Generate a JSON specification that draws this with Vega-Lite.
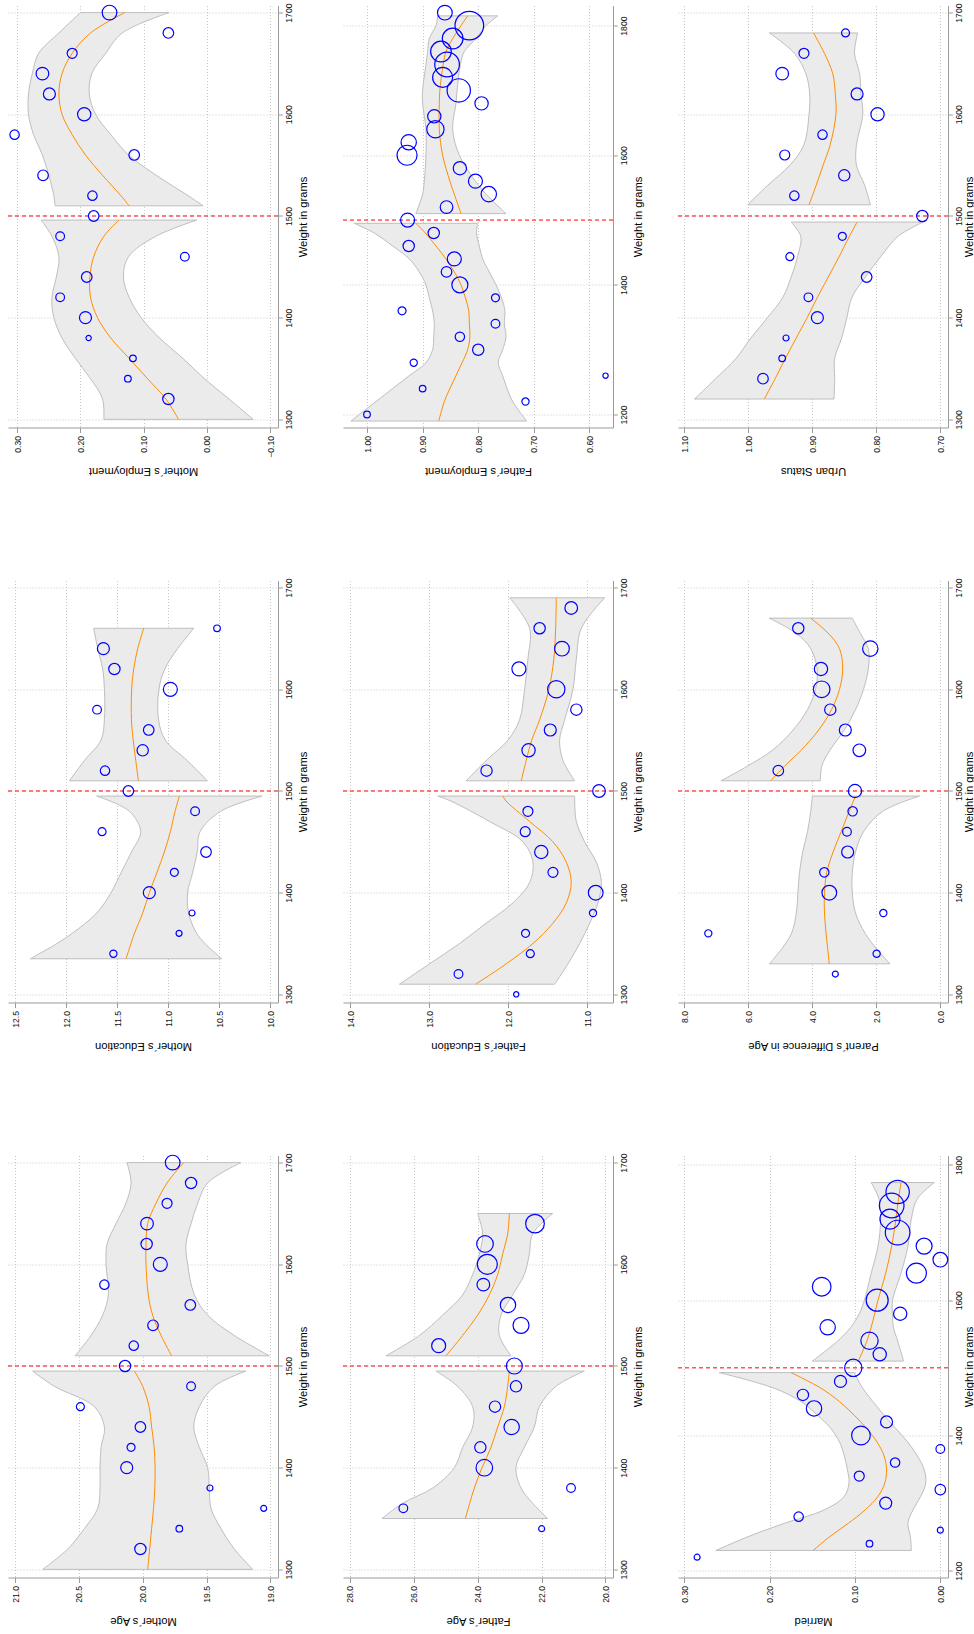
{
"$schema": "https://vega.github.io/schema/vega-lite/v6.json",
"background": "white",
"padding": {"left": 7, "top": 2.5, "right": 0, "bottom": 0},
"datasets": {
"cut": [{"w": 1500}],
"band": [
{"p":"A","s":1,"w":1300,"f":0.045,"hi":0.163,"lo":-0.073},{"p":"A","s":1,"w":1320,"f":0.065,"hi":0.165,"lo":-0.035},{"p":"A","s":1,"w":1340,"f":0.094,"hi":0.184,"lo":0.004},{"p":"A","s":1,"w":1360,"f":0.123,"hi":0.208,"lo":0.038},{"p":"A","s":1,"w":1380,"f":0.152,"hi":0.229,"lo":0.075},{"p":"A","s":1,"w":1400,"f":0.173,"hi":0.242,"lo":0.104},{"p":"A","s":1,"w":1420,"f":0.184,"hi":0.245,"lo":0.123},{"p":"A","s":1,"w":1440,"f":0.185,"hi":0.238,"lo":0.132},{"p":"A","s":1,"w":1460,"f":0.179,"hi":0.234,"lo":0.124},{"p":"A","s":1,"w":1480,"f":0.163,"hi":0.245,"lo":0.081},{"p":"A","s":1,"w":1496,"f":0.139,"hi":0.262,"lo":0.016},
{"p":"A","s":2,"w":1510,"f":0.123,"hi":0.240,"lo":0.006},{"p":"A","s":2,"w":1520,"f":0.136,"hi":0.242,"lo":0.030},{"p":"A","s":2,"w":1540,"f":0.165,"hi":0.250,"lo":0.080},{"p":"A","s":2,"w":1560,"f":0.192,"hi":0.260,"lo":0.124},{"p":"A","s":2,"w":1580,"f":0.213,"hi":0.274,"lo":0.152},{"p":"A","s":2,"w":1600,"f":0.229,"hi":0.282,"lo":0.176},{"p":"A","s":2,"w":1620,"f":0.234,"hi":0.282,"lo":0.186},{"p":"A","s":2,"w":1640,"f":0.229,"hi":0.276,"lo":0.182},{"p":"A","s":2,"w":1660,"f":0.213,"hi":0.266,"lo":0.160},{"p":"A","s":2,"w":1680,"f":0.184,"hi":0.234,"lo":0.134},{"p":"A","s":2,"w":1700,"f":0.130,"hi":0.200,"lo":0.060},
{"p":"B","s":1,"w":1190,"f":0.871,"hi":1.029,"lo":0.713},{"p":"B","s":1,"w":1220,"f":0.861,"hi":0.984,"lo":0.738},{"p":"B","s":1,"w":1240,"f":0.851,"hi":0.954,"lo":0.748},{"p":"B","s":1,"w":1260,"f":0.840,"hi":0.924,"lo":0.756},{"p":"B","s":1,"w":1280,"f":0.829,"hi":0.894,"lo":0.764},{"p":"B","s":1,"w":1300,"f":0.819,"hi":0.882,"lo":0.756},{"p":"B","s":1,"w":1320,"f":0.815,"hi":0.880,"lo":0.750},{"p":"B","s":1,"w":1340,"f":0.816,"hi":0.879,"lo":0.753},{"p":"B","s":1,"w":1360,"f":0.817,"hi":0.882,"lo":0.752},{"p":"B","s":1,"w":1380,"f":0.823,"hi":0.888,"lo":0.758},{"p":"B","s":1,"w":1400,"f":0.831,"hi":0.894,"lo":0.768},{"p":"B","s":1,"w":1420,"f":0.843,"hi":0.906,"lo":0.780},{"p":"B","s":1,"w":1440,"f":0.858,"hi":0.924,"lo":0.792},{"p":"B","s":1,"w":1460,"f":0.876,"hi":0.954,"lo":0.798},{"p":"B","s":1,"w":1480,"f":0.895,"hi":0.987,"lo":0.803},{"p":"B","s":1,"w":1495,"f":0.912,"hi":1.023,"lo":0.801},
{"p":"B","s":2,"w":1510,"f":0.831,"hi":0.912,"lo":0.750},{"p":"B","s":2,"w":1540,"f":0.843,"hi":0.900,"lo":0.786},{"p":"B","s":2,"w":1560,"f":0.851,"hi":0.897,"lo":0.805},{"p":"B","s":2,"w":1600,"f":0.864,"hi":0.894,"lo":0.834},{"p":"B","s":2,"w":1640,"f":0.870,"hi":0.894,"lo":0.846},{"p":"B","s":2,"w":1680,"f":0.870,"hi":0.900,"lo":0.840},{"p":"B","s":2,"w":1700,"f":0.869,"hi":0.900,"lo":0.838},{"p":"B","s":2,"w":1740,"f":0.863,"hi":0.894,"lo":0.832},{"p":"B","s":2,"w":1760,"f":0.858,"hi":0.891,"lo":0.825},{"p":"B","s":2,"w":1780,"f":0.846,"hi":0.888,"lo":0.804},{"p":"B","s":2,"w":1800,"f":0.831,"hi":0.876,"lo":0.786},{"p":"B","s":2,"w":1815,"f":0.819,"hi":0.873,"lo":0.765},
{"p":"C","s":1,"w":1320,"f":0.975,"hi":1.084,"lo":0.866},{"p":"C","s":1,"w":1340,"f":0.958,"hi":1.051,"lo":0.865},{"p":"C","s":1,"w":1360,"f":0.942,"hi":1.019,"lo":0.865},{"p":"C","s":1,"w":1380,"f":0.925,"hi":0.996,"lo":0.854},{"p":"C","s":1,"w":1400,"f":0.908,"hi":0.970,"lo":0.846},{"p":"C","s":1,"w":1420,"f":0.892,"hi":0.946,"lo":0.838},{"p":"C","s":1,"w":1440,"f":0.875,"hi":0.933,"lo":0.817},{"p":"C","s":1,"w":1460,"f":0.858,"hi":0.923,"lo":0.793},{"p":"C","s":1,"w":1480,"f":0.842,"hi":0.918,"lo":0.766},{"p":"C","s":1,"w":1494,"f":0.830,"hi":0.933,"lo":0.727},
{"p":"C","s":2,"w":1511,"f":0.905,"hi":1.001,"lo":0.809},{"p":"C","s":2,"w":1530,"f":0.894,"hi":0.970,"lo":0.818},{"p":"C","s":2,"w":1550,"f":0.883,"hi":0.935,"lo":0.831},{"p":"C","s":2,"w":1570,"f":0.872,"hi":0.913,"lo":0.831},{"p":"C","s":2,"w":1600,"f":0.863,"hi":0.905,"lo":0.821},{"p":"C","s":2,"w":1620,"f":0.864,"hi":0.904,"lo":0.824},{"p":"C","s":2,"w":1640,"f":0.868,"hi":0.910,"lo":0.826},{"p":"C","s":2,"w":1660,"f":0.881,"hi":0.928,"lo":0.834},{"p":"C","s":2,"w":1680,"f":0.898,"hi":0.967,"lo":0.829},
{"p":"D","s":1,"w":1335,"f":11.413,"hi":12.35,"lo":10.476},{"p":"D","s":1,"w":1350,"f":11.365,"hi":12.09,"lo":10.64},{"p":"D","s":1,"w":1360,"f":11.331,"hi":11.94,"lo":10.722},{"p":"D","s":1,"w":1380,"f":11.25,"hi":11.70,"lo":10.80},{"p":"D","s":1,"w":1400,"f":11.185,"hi":11.56,"lo":10.81},{"p":"D","s":1,"w":1420,"f":11.11,"hi":11.46,"lo":10.76},{"p":"D","s":1,"w":1440,"f":11.038,"hi":11.36,"lo":10.716},{"p":"D","s":1,"w":1460,"f":10.979,"hi":11.27,"lo":10.688},{"p":"D","s":1,"w":1480,"f":10.933,"hi":11.38,"lo":10.486},{"p":"D","s":1,"w":1495,"f":10.891,"hi":11.70,"lo":10.08},
{"p":"D","s":2,"w":1510,"f":11.292,"hi":11.968,"lo":10.616},{"p":"D","s":2,"w":1530,"f":11.318,"hi":11.821,"lo":10.815},{"p":"D","s":2,"w":1550,"f":11.343,"hi":11.658,"lo":11.028},{"p":"D","s":2,"w":1570,"f":11.36,"hi":11.625,"lo":11.095},{"p":"D","s":2,"w":1600,"f":11.358,"hi":11.625,"lo":11.091},{"p":"D","s":2,"w":1620,"f":11.338,"hi":11.642,"lo":11.034},{"p":"D","s":2,"w":1640,"f":11.299,"hi":11.69,"lo":10.908},{"p":"D","s":2,"w":1660,"f":11.24,"hi":11.73,"lo":10.75},
{"p":"E","s":1,"w":1310,"f":12.411,"hi":13.375,"lo":11.41},{"p":"E","s":1,"w":1330,"f":12.023,"hi":12.994,"lo":11.241},{"p":"E","s":1,"w":1350,"f":11.685,"hi":12.614,"lo":11.093},{"p":"E","s":1,"w":1370,"f":11.431,"hi":12.276,"lo":10.966},{"p":"E","s":1,"w":1390,"f":11.262,"hi":11.938,"lo":10.861},{"p":"E","s":1,"w":1410,"f":11.2,"hi":11.727,"lo":10.818},{"p":"E","s":1,"w":1430,"f":11.262,"hi":11.685,"lo":10.882},{"p":"E","s":1,"w":1450,"f":11.431,"hi":11.811,"lo":11.03},{"p":"E","s":1,"w":1470,"f":11.727,"hi":12.234,"lo":11.135},{"p":"E","s":1,"w":1490,"f":12.023,"hi":12.72,"lo":11.156},{"p":"E","s":1,"w":1495,"f":12.065,"hi":12.889,"lo":11.156},
{"p":"E","s":2,"w":1510,"f":11.832,"hi":12.53,"lo":11.156},{"p":"E","s":2,"w":1530,"f":11.77,"hi":12.276,"lo":11.304},{"p":"E","s":2,"w":1550,"f":11.70,"hi":12.001,"lo":11.347},{"p":"E","s":2,"w":1570,"f":11.60,"hi":11.854,"lo":11.283},{"p":"E","s":2,"w":1600,"f":11.482,"hi":11.79,"lo":11.178},{"p":"E","s":2,"w":1630,"f":11.42,"hi":11.748,"lo":11.135},{"p":"E","s":2,"w":1660,"f":11.397,"hi":11.727,"lo":11.072},{"p":"E","s":2,"w":1690,"f":11.389,"hi":11.98,"lo":10.776},
{"p":"F","s":1,"w":1330,"f":3.47,"hi":5.34,"lo":1.57},{"p":"F","s":1,"w":1345,"f":3.52,"hi":4.95,"lo":2.0},{"p":"F","s":1,"w":1360,"f":3.57,"hi":4.65,"lo":2.35},{"p":"F","s":1,"w":1380,"f":3.62,"hi":4.5,"lo":2.65},{"p":"F","s":1,"w":1400,"f":3.62,"hi":4.45,"lo":2.75},{"p":"F","s":1,"w":1420,"f":3.55,"hi":4.4,"lo":2.75},{"p":"F","s":1,"w":1440,"f":3.35,"hi":4.3,"lo":2.65},{"p":"F","s":1,"w":1460,"f":3.1,"hi":4.15,"lo":2.4},{"p":"F","s":1,"w":1480,"f":2.85,"hi":4.05,"lo":1.8},{"p":"F","s":1,"w":1495,"f":2.65,"hi":4.0,"lo":0.65},
{"p":"F","s":2,"w":1510,"f":5.3,"hi":6.85,"lo":3.75},{"p":"F","s":2,"w":1525,"f":4.85,"hi":6.0,"lo":3.7},{"p":"F","s":2,"w":1540,"f":4.35,"hi":5.25,"lo":3.45},{"p":"F","s":2,"w":1560,"f":3.8,"hi":4.6,"lo":3.0},{"p":"F","s":2,"w":1580,"f":3.4,"hi":4.15,"lo":2.65},{"p":"F","s":2,"w":1600,"f":3.15,"hi":3.9,"lo":2.4},{"p":"F","s":2,"w":1620,"f":3.05,"hi":3.85,"lo":2.25},{"p":"F","s":2,"w":1640,"f":3.15,"hi":4.05,"lo":2.25},{"p":"F","s":2,"w":1655,"f":3.5,"hi":4.5,"lo":2.5},{"p":"F","s":2,"w":1670,"f":4.05,"hi":5.35,"lo":2.75},
{"p":"G","s":1,"w":1300,"f":19.961,"hi":20.783,"lo":19.138},{"p":"G","s":1,"w":1320,"f":19.945,"hi":20.587,"lo":19.282},{"p":"G","s":1,"w":1340,"f":19.93,"hi":20.457,"lo":19.386},{"p":"G","s":1,"w":1360,"f":19.915,"hi":20.352,"lo":19.465},{"p":"G","s":1,"w":1380,"f":19.905,"hi":20.334,"lo":19.478},{"p":"G","s":1,"w":1400,"f":19.903,"hi":20.334,"lo":19.491},{"p":"G","s":1,"w":1420,"f":19.91,"hi":20.326,"lo":19.556},{"p":"G","s":1,"w":1440,"f":19.93,"hi":20.3,"lo":19.6},{"p":"G","s":1,"w":1460,"f":19.95,"hi":20.379,"lo":19.556},{"p":"G","s":1,"w":1480,"f":20.0,"hi":20.692,"lo":19.439},{"p":"G","s":1,"w":1495,"f":20.065,"hi":20.862,"lo":19.191},
{"p":"G","s":2,"w":1510,"f":19.773,"hi":20.53,"lo":19.008},{"p":"G","s":2,"w":1530,"f":19.856,"hi":20.405,"lo":19.282},{"p":"G","s":2,"w":1550,"f":19.922,"hi":20.313,"lo":19.491},{"p":"G","s":2,"w":1570,"f":19.956,"hi":20.269,"lo":19.595},{"p":"G","s":2,"w":1600,"f":19.974,"hi":20.287,"lo":19.648},{"p":"G","s":2,"w":1620,"f":19.974,"hi":20.279,"lo":19.661},{"p":"G","s":2,"w":1640,"f":19.961,"hi":20.209,"lo":19.621},{"p":"G","s":2,"w":1660,"f":19.896,"hi":20.131,"lo":19.569},{"p":"G","s":2,"w":1680,"f":19.809,"hi":20.091,"lo":19.491},{"p":"G","s":2,"w":1700,"f":19.679,"hi":20.123,"lo":19.23},
{"p":"H","s":1,"w":1350,"f":24.386,"hi":26.997,"lo":21.807},{"p":"H","s":1,"w":1365,"f":24.25,"hi":26.35,"lo":22.277},{"p":"H","s":1,"w":1380,"f":24.104,"hi":25.41,"lo":22.642},{"p":"H","s":1,"w":1400,"f":23.864,"hi":24.731,"lo":22.799},{"p":"H","s":1,"w":1420,"f":23.582,"hi":24.47,"lo":22.538},{"p":"H","s":1,"w":1440,"f":23.373,"hi":24.157,"lo":22.225},{"p":"H","s":1,"w":1460,"f":23.164,"hi":24.157,"lo":22.068},{"p":"H","s":1,"w":1480,"f":23.06,"hi":24.627,"lo":21.546},{"p":"H","s":1,"w":1495,"f":23.008,"hi":25.306,"lo":20.658},
{"p":"H","s":2,"w":1510,"f":24.992,"hi":26.872,"lo":22.956},{"p":"H","s":2,"w":1530,"f":24.47,"hi":25.828,"lo":23.321},{"p":"H","s":2,"w":1550,"f":24.0,"hi":25.097,"lo":23.269},{"p":"H","s":2,"w":1570,"f":23.634,"hi":24.47,"lo":22.903},{"p":"H","s":2,"w":1590,"f":23.373,"hi":24.157,"lo":22.538},{"p":"H","s":2,"w":1610,"f":23.217,"hi":23.948,"lo":22.381},{"p":"H","s":2,"w":1630,"f":23.06,"hi":23.843,"lo":22.277},{"p":"H","s":2,"w":1650,"f":23.008,"hi":24.0,"lo":21.65},
{"p":"I","s":1,"w":1230,"f":0.149,"hi":0.263,"lo":0.034},{"p":"I","s":1,"w":1250,"f":0.130,"hi":0.226,"lo":0.035},{"p":"I","s":1,"w":1270,"f":0.108,"hi":0.183,"lo":0.038},{"p":"I","s":1,"w":1290,"f":0.088,"hi":0.136,"lo":0.032},{"p":"I","s":1,"w":1310,"f":0.073,"hi":0.1125,"lo":0.023},{"p":"I","s":1,"w":1330,"f":0.065,"hi":0.107,"lo":0.017},{"p":"I","s":1,"w":1350,"f":0.063,"hi":0.109,"lo":0.019},{"p":"I","s":1,"w":1370,"f":0.066,"hi":0.1125,"lo":0.027},{"p":"I","s":1,"w":1390,"f":0.074,"hi":0.118,"lo":0.038},{"p":"I","s":1,"w":1410,"f":0.086,"hi":0.128,"lo":0.052},{"p":"I","s":1,"w":1430,"f":0.101,"hi":0.144,"lo":0.066},{"p":"I","s":1,"w":1450,"f":0.118,"hi":0.163,"lo":0.079},{"p":"I","s":1,"w":1470,"f":0.140,"hi":0.195,"lo":0.091},{"p":"I","s":1,"w":1493,"f":0.175,"hi":0.259,"lo":0.101},
{"p":"I","s":2,"w":1510,"f":0.096,"hi":0.150,"lo":0.043},{"p":"I","s":2,"w":1540,"f":0.086,"hi":0.120,"lo":0.050},{"p":"I","s":2,"w":1560,"f":0.081,"hi":0.105,"lo":0.055},{"p":"I","s":2,"w":1580,"f":0.077,"hi":0.095,"lo":0.056},{"p":"I","s":2,"w":1600,"f":0.073,"hi":0.089,"lo":0.056},{"p":"I","s":2,"w":1640,"f":0.064,"hi":0.081,"lo":0.046},{"p":"I","s":2,"w":1680,"f":0.057,"hi":0.073,"lo":0.038},{"p":"I","s":2,"w":1720,"f":0.052,"hi":0.070,"lo":0.034},{"p":"I","s":2,"w":1750,"f":0.049,"hi":0.072,"lo":0.027},{"p":"I","s":2,"w":1774,"f":0.046,"hi":0.081,"lo":0.007}
],
"pts": [
{"p":"A","w":1320,"v":0.061,"n":32},{"p":"A","w":1340,"v":0.125,"n":11},{"p":"A","w":1360,"v":0.117,"n":11},{"p":"A","w":1380,"v":0.187,"n":7},{"p":"A","w":1400,"v":0.192,"n":36},{"p":"A","w":1420,"v":0.232,"n":19},{"p":"A","w":1440,"v":0.190,"n":28},{"p":"A","w":1460,"v":0.035,"n":19},{"p":"A","w":1480,"v":0.232,"n":19},{"p":"A","w":1500,"v":0.179,"n":28},{"p":"A","w":1520,"v":0.181,"n":22},{"p":"A","w":1540,"v":0.259,"n":28},{"p":"A","w":1560,"v":0.115,"n":28},{"p":"A","w":1580,"v":0.304,"n":22},{"p":"A","w":1600,"v":0.194,"n":44},{"p":"A","w":1620,"v":0.249,"n":36},{"p":"A","w":1640,"v":0.260,"n":40},{"p":"A","w":1660,"v":0.213,"n":25},{"p":"A","w":1680,"v":0.061,"n":28},{"p":"A","w":1700,"v":0.154,"n":54},
{"p":"B","w":1200,"v":1.000,"n":11},{"p":"B","w":1220,"v":0.715,"n":13},{"p":"B","w":1240,"v":0.900,"n":11},{"p":"B","w":1260,"v":0.571,"n":7},{"p":"B","w":1280,"v":0.916,"n":13},{"p":"B","w":1300,"v":0.800,"n":32},{"p":"B","w":1320,"v":0.833,"n":22},{"p":"B","w":1340,"v":0.769,"n":19},{"p":"B","w":1360,"v":0.937,"n":16},{"p":"B","w":1380,"v":0.769,"n":16},{"p":"B","w":1400,"v":0.833,"n":64},{"p":"B","w":1420,"v":0.857,"n":28},{"p":"B","w":1440,"v":0.843,"n":49},{"p":"B","w":1460,"v":0.925,"n":32},{"p":"B","w":1480,"v":0.880,"n":32},{"p":"B","w":1500,"v":0.927,"n":49},{"p":"B","w":1520,"v":0.857,"n":40},{"p":"B","w":1540,"v":0.781,"n":59},{"p":"B","w":1560,"v":0.805,"n":49},{"p":"B","w":1580,"v":0.833,"n":44},{"p":"B","w":1600,"v":0.928,"n":100},{"p":"B","w":1620,"v":0.925,"n":59},{"p":"B","w":1640,"v":0.877,"n":75},{"p":"B","w":1660,"v":0.879,"n":44},{"p":"B","w":1680,"v":0.794,"n":44},{"p":"B","w":1700,"v":0.835,"n":136},{"p":"B","w":1720,"v":0.864,"n":100},{"p":"B","w":1740,"v":0.856,"n":152},{"p":"B","w":1760,"v":0.867,"n":107},{"p":"B","w":1780,"v":0.846,"n":107},{"p":"B","w":1800,"v":0.816,"n":205},{"p":"B","w":1820,"v":0.860,"n":54},
{"p":"C","w":1340,"v":0.977,"n":28},{"p":"C","w":1360,"v":0.947,"n":11},{"p":"C","w":1380,"v":0.941,"n":9},{"p":"C","w":1400,"v":0.892,"n":36},{"p":"C","w":1420,"v":0.906,"n":19},{"p":"C","w":1440,"v":0.815,"n":28},{"p":"C","w":1460,"v":0.935,"n":16},{"p":"C","w":1480,"v":0.853,"n":16},{"p":"C","w":1500,"v":0.728,"n":32},{"p":"C","w":1520,"v":0.928,"n":22},{"p":"C","w":1540,"v":0.850,"n":32},{"p":"C","w":1560,"v":0.943,"n":25},{"p":"C","w":1580,"v":0.884,"n":22},{"p":"C","w":1600,"v":0.798,"n":44},{"p":"C","w":1620,"v":0.830,"n":36},{"p":"C","w":1640,"v":0.947,"n":40},{"p":"C","w":1660,"v":0.913,"n":25},{"p":"C","w":1680,"v":0.848,"n":16},
{"p":"D","w":1340,"v":11.537,"n":13},{"p":"D","w":1360,"v":10.894,"n":9},{"p":"D","w":1380,"v":10.767,"n":9},{"p":"D","w":1400,"v":11.185,"n":36},{"p":"D","w":1420,"v":10.940,"n":16},{"p":"D","w":1440,"v":10.630,"n":28},{"p":"D","w":1460,"v":11.648,"n":16},{"p":"D","w":1480,"v":10.737,"n":19},{"p":"D","w":1500,"v":11.390,"n":28},{"p":"D","w":1520,"v":11.619,"n":22},{"p":"D","w":1540,"v":11.250,"n":32},{"p":"D","w":1560,"v":11.191,"n":28},{"p":"D","w":1580,"v":11.697,"n":19},{"p":"D","w":1600,"v":10.979,"n":49},{"p":"D","w":1620,"v":11.527,"n":32},{"p":"D","w":1640,"v":11.635,"n":36},{"p":"D","w":1660,"v":10.522,"n":11},
{"p":"E","w":1300,"v":11.896,"n":7},{"p":"E","w":1320,"v":12.627,"n":19},{"p":"E","w":1340,"v":11.718,"n":16},{"p":"E","w":1360,"v":11.778,"n":16},{"p":"E","w":1380,"v":10.924,"n":13},{"p":"E","w":1400,"v":10.890,"n":54},{"p":"E","w":1420,"v":11.431,"n":25},{"p":"E","w":1440,"v":11.579,"n":44},{"p":"E","w":1460,"v":11.782,"n":25},{"p":"E","w":1480,"v":11.748,"n":25},{"p":"E","w":1500,"v":10.848,"n":40},{"p":"E","w":1520,"v":12.272,"n":32},{"p":"E","w":1540,"v":11.740,"n":44},{"p":"E","w":1560,"v":11.465,"n":36},{"p":"E","w":1580,"v":11.135,"n":32},{"p":"E","w":1600,"v":11.389,"n":75},{"p":"E","w":1620,"v":11.862,"n":49},{"p":"E","w":1640,"v":11.317,"n":54},{"p":"E","w":1660,"v":11.600,"n":32},{"p":"E","w":1680,"v":11.200,"n":40},
{"p":"F","w":1320,"v":3.281,"n":9},{"p":"F","w":1340,"v":1.99,"n":13},{"p":"F","w":1360,"v":7.25,"n":13},{"p":"F","w":1380,"v":1.781,"n":13},{"p":"F","w":1400,"v":3.469,"n":54},{"p":"F","w":1420,"v":3.625,"n":22},{"p":"F","w":1440,"v":2.896,"n":36},{"p":"F","w":1460,"v":2.917,"n":19},{"p":"F","w":1480,"v":2.74,"n":22},{"p":"F","w":1500,"v":2.667,"n":44},{"p":"F","w":1520,"v":5.063,"n":28},{"p":"F","w":1540,"v":2.531,"n":40},{"p":"F","w":1560,"v":2.969,"n":36},{"p":"F","w":1580,"v":3.438,"n":32},{"p":"F","w":1600,"v":3.708,"n":69},{"p":"F","w":1620,"v":3.729,"n":44},{"p":"F","w":1640,"v":2.188,"n":59},{"p":"F","w":1660,"v":4.438,"n":32},
{"p":"G","w":1320,"v":20.018,"n":32},{"p":"G","w":1340,"v":19.713,"n":11},{"p":"G","w":1360,"v":19.052,"n":9},{"p":"G","w":1380,"v":19.473,"n":9},{"p":"G","w":1400,"v":20.125,"n":36},{"p":"G","w":1420,"v":20.091,"n":16},{"p":"G","w":1440,"v":20.018,"n":28},{"p":"G","w":1460,"v":20.488,"n":16},{"p":"G","w":1480,"v":19.621,"n":19},{"p":"G","w":1500,"v":20.138,"n":32},{"p":"G","w":1520,"v":20.07,"n":22},{"p":"G","w":1540,"v":19.919,"n":28},{"p":"G","w":1560,"v":19.627,"n":28},{"p":"G","w":1580,"v":20.3,"n":22},{"p":"G","w":1600,"v":19.862,"n":49},{"p":"G","w":1620,"v":19.969,"n":32},{"p":"G","w":1640,"v":19.966,"n":40},{"p":"G","w":1660,"v":19.809,"n":25},{"p":"G","w":1680,"v":19.621,"n":32},{"p":"G","w":1700,"v":19.765,"n":54},
{"p":"H","w":1340,"v":21.995,"n":9},{"p":"H","w":1360,"v":26.329,"n":19},{"p":"H","w":1380,"v":21.076,"n":19},{"p":"H","w":1400,"v":23.791,"n":69},{"p":"H","w":1420,"v":23.916,"n":32},{"p":"H","w":1440,"v":22.935,"n":59},{"p":"H","w":1460,"v":23.457,"n":32},{"p":"H","w":1480,"v":22.799,"n":32},{"p":"H","w":1500,"v":22.851,"n":64},{"p":"H","w":1520,"v":25.222,"n":49},{"p":"H","w":1540,"v":22.642,"n":64},{"p":"H","w":1560,"v":23.05,"n":59},{"p":"H","w":1580,"v":23.822,"n":40},{"p":"H","w":1600,"v":23.697,"n":100},{"p":"H","w":1620,"v":23.77,"n":69},{"p":"H","w":1640,"v":22.204,"n":87},
{"p":"I","w":1220,"v":0.285,"n":9},{"p":"I","w":1240,"v":0.083,"n":11},{"p":"I","w":1260,"v":0.0,"n":9},{"p":"I","w":1280,"v":0.166,"n":22},{"p":"I","w":1300,"v":0.064,"n":36},{"p":"I","w":1320,"v":0.0,"n":28},{"p":"I","w":1340,"v":0.095,"n":25},{"p":"I","w":1360,"v":0.053,"n":22},{"p":"I","w":1380,"v":0.0,"n":19},{"p":"I","w":1400,"v":0.093,"n":87},{"p":"I","w":1420,"v":0.063,"n":36},{"p":"I","w":1440,"v":0.148,"n":59},{"p":"I","w":1460,"v":0.161,"n":32},{"p":"I","w":1480,"v":0.117,"n":36},{"p":"I","w":1500,"v":0.102,"n":75},{"p":"I","w":1520,"v":0.071,"n":44},{"p":"I","w":1540,"v":0.083,"n":75},{"p":"I","w":1560,"v":0.132,"n":59},{"p":"I","w":1580,"v":0.047,"n":44},{"p":"I","w":1600,"v":0.074,"n":121},{"p":"I","w":1620,"v":0.139,"n":87},{"p":"I","w":1640,"v":0.028,"n":100},{"p":"I","w":1660,"v":0.0,"n":54},{"p":"I","w":1680,"v":0.019,"n":64},{"p":"I","w":1700,"v":0.05,"n":152},{"p":"I","w":1720,"v":0.059,"n":100},{"p":"I","w":1740,"v":0.057,"n":152},{"p":"I","w":1760,"v":0.05,"n":136}
]
},
"columns": 3,
"spacing": {"row": 153, "column": 65},
"bounds": "flush",
"concat": [
{"width": 270, "height": 422,
 "encoding": {"y": {"field": "w", "type": "quantitative", "scale": {"domain": [1292, 1707], "nice": false, "zero": false}, "axis": {"orient": "right", "values": [1300,1400,1500,1600,1700], "format": "d", "title": "Weight in grams"}}},
 "layer": [
  {"data": {"name": "band"}, "transform": [{"filter": "datum.p == 'A'"}], "mark": {"type": "area", "orient": "horizontal", "interpolate": "catmull-rom", "fill": "#ebebeb", "stroke": "#bebebe", "strokeWidth": 1}, "encoding": {"x": {"field": "lo", "type": "quantitative", "scale": {"domain": [-0.1122, 0.3144], "reverse": true, "nice": false, "zero": false}, "axis": {"values": [-0.1,0,0.1,0.2,0.3], "format": ".2f", "title": "Mother´s Employment"}}, "x2": {"field": "hi"}, "detail": {"field": "s"}}},
  {"data": {"name": "band"}, "transform": [{"filter": "datum.p == 'A'"}], "mark": {"type": "line", "color": "#ff8c00", "strokeWidth": 1, "interpolate": "catmull-rom"}, "encoding": {"x": {"field": "f", "type": "quantitative", "scale": {"domain": [-0.1122, 0.3144], "reverse": true, "nice": false, "zero": false}, "axis": {"values": [-0.1,0,0.1,0.2,0.3], "format": ".2f", "title": "Mother´s Employment"}}, "detail": {"field": "s"}, "order": {"field": "w", "type": "quantitative"}}},
  {"data": {"name": "cut"}, "mark": {"type": "rule", "color": "#ff0000", "strokeDash": [4, 3], "strokeWidth": 1}, "encoding": {}},
  {"data": {"name": "pts"}, "transform": [{"filter": "datum.p == 'A'"}], "mark": {"type": "point", "shape": "circle", "filled": false, "color": "#0000ff", "strokeWidth": 1.2, "opacity": 1}, "encoding": {"x": {"field": "v", "type": "quantitative", "scale": {"domain": [-0.1122, 0.3144], "reverse": true, "nice": false, "zero": false}, "axis": {"values": [-0.1,0,0.1,0.2,0.3], "format": ".2f", "title": "Mother´s Employment"}}, "size": {"field": "n", "type": "quantitative", "scale": {"domain": [0, 100], "range": [0, 400]}, "legend": null}}}
 ]},
{"width": 270, "height": 422,
 "encoding": {"y": {"field": "w", "type": "quantitative", "scale": {"domain": [1180, 1831], "nice": false, "zero": false}, "axis": {"orient": "right", "values": [1200,1400,1600,1800], "format": "d", "title": "Weight in grams"}}},
 "layer": [
  {"data": {"name": "band"}, "transform": [{"filter": "datum.p == 'B'"}], "mark": {"type": "area", "orient": "horizontal", "interpolate": "catmull-rom", "fill": "#ebebeb", "stroke": "#bebebe", "strokeWidth": 1}, "encoding": {"x": {"field": "lo", "type": "quantitative", "scale": {"domain": [0.5576, 1.0432], "reverse": true, "nice": false, "zero": false}, "axis": {"values": [0.6,0.7,0.8,0.9,1.0], "format": ".2f", "title": "Father´s Employment"}}, "x2": {"field": "hi"}, "detail": {"field": "s"}}},
  {"data": {"name": "band"}, "transform": [{"filter": "datum.p == 'B'"}], "mark": {"type": "line", "color": "#ff8c00", "strokeWidth": 1, "interpolate": "catmull-rom"}, "encoding": {"x": {"field": "f", "type": "quantitative", "scale": {"domain": [0.5576, 1.0432], "reverse": true, "nice": false, "zero": false}, "axis": {"values": [0.6,0.7,0.8,0.9,1.0], "format": ".2f", "title": "Father´s Employment"}}, "detail": {"field": "s"}, "order": {"field": "w", "type": "quantitative"}}},
  {"data": {"name": "cut"}, "mark": {"type": "rule", "color": "#ff0000", "strokeDash": [4, 3], "strokeWidth": 1}, "encoding": {}},
  {"data": {"name": "pts"}, "transform": [{"filter": "datum.p == 'B'"}], "mark": {"type": "point", "shape": "circle", "filled": false, "color": "#0000ff", "strokeWidth": 1.2, "opacity": 1}, "encoding": {"x": {"field": "v", "type": "quantitative", "scale": {"domain": [0.5576, 1.0432], "reverse": true, "nice": false, "zero": false}, "axis": {"values": [0.6,0.7,0.8,0.9,1.0], "format": ".2f", "title": "Father´s Employment"}}, "size": {"field": "n", "type": "quantitative", "scale": {"domain": [0, 100], "range": [0, 400]}, "legend": null}}}
 ]},
{"width": 270, "height": 422,
 "encoding": {"y": {"field": "w", "type": "quantitative", "scale": {"domain": [1292, 1707], "nice": false, "zero": false}, "axis": {"orient": "right", "values": [1300,1400,1500,1600,1700], "format": "d", "title": "Weight in grams", "titleX": 21}}},
 "layer": [
  {"data": {"name": "band"}, "transform": [{"filter": "datum.p == 'C'"}], "mark": {"type": "area", "orient": "horizontal", "interpolate": "catmull-rom", "fill": "#ebebeb", "stroke": "#bebebe", "strokeWidth": 1}, "encoding": {"x": {"field": "lo", "type": "quantitative", "scale": {"domain": [0.6879, 1.1098], "reverse": true, "nice": false, "zero": false}, "axis": {"values": [0.7,0.8,0.9,1.0,1.1], "format": ".2f", "title": "Urban Status"}}, "x2": {"field": "hi"}, "detail": {"field": "s"}}},
  {"data": {"name": "band"}, "transform": [{"filter": "datum.p == 'C'"}], "mark": {"type": "line", "color": "#ff8c00", "strokeWidth": 1, "interpolate": "catmull-rom"}, "encoding": {"x": {"field": "f", "type": "quantitative", "scale": {"domain": [0.6879, 1.1098], "reverse": true, "nice": false, "zero": false}, "axis": {"values": [0.7,0.8,0.9,1.0,1.1], "format": ".2f", "title": "Urban Status"}}, "detail": {"field": "s"}, "order": {"field": "w", "type": "quantitative"}}},
  {"data": {"name": "cut"}, "mark": {"type": "rule", "color": "#ff0000", "strokeDash": [4, 3], "strokeWidth": 1}, "encoding": {}},
  {"data": {"name": "pts"}, "transform": [{"filter": "datum.p == 'C'"}], "mark": {"type": "point", "shape": "circle", "filled": false, "color": "#0000ff", "strokeWidth": 1.2, "opacity": 1}, "encoding": {"x": {"field": "v", "type": "quantitative", "scale": {"domain": [0.6879, 1.1098], "reverse": true, "nice": false, "zero": false}, "axis": {"values": [0.7,0.8,0.9,1.0,1.1], "format": ".2f", "title": "Urban Status"}}, "size": {"field": "n", "type": "quantitative", "scale": {"domain": [0, 100], "range": [0, 400]}, "legend": null}}}
 ]},
{"width": 270, "height": 422,
 "encoding": {"y": {"field": "w", "type": "quantitative", "scale": {"domain": [1292, 1707], "nice": false, "zero": false}, "axis": {"orient": "right", "values": [1300,1400,1500,1600,1700], "format": "d", "title": "Weight in grams"}}},
 "layer": [
  {"data": {"name": "band"}, "transform": [{"filter": "datum.p == 'D'"}], "mark": {"type": "area", "orient": "horizontal", "interpolate": "catmull-rom", "fill": "#ebebeb", "stroke": "#bebebe", "strokeWidth": 1}, "encoding": {"x": {"field": "lo", "type": "quantitative", "scale": {"domain": [9.925, 12.569], "reverse": true, "nice": false, "zero": false}, "axis": {"values": [10,10.5,11,11.5,12,12.5], "format": ".1f", "title": "Mother´s Education"}}, "x2": {"field": "hi"}, "detail": {"field": "s"}}},
  {"data": {"name": "band"}, "transform": [{"filter": "datum.p == 'D'"}], "mark": {"type": "line", "color": "#ff8c00", "strokeWidth": 1, "interpolate": "catmull-rom"}, "encoding": {"x": {"field": "f", "type": "quantitative", "scale": {"domain": [9.925, 12.569], "reverse": true, "nice": false, "zero": false}, "axis": {"values": [10,10.5,11,11.5,12,12.5], "format": ".1f", "title": "Mother´s Education"}}, "detail": {"field": "s"}, "order": {"field": "w", "type": "quantitative"}}},
  {"data": {"name": "cut"}, "mark": {"type": "rule", "color": "#ff0000", "strokeDash": [4, 3], "strokeWidth": 1}, "encoding": {}},
  {"data": {"name": "pts"}, "transform": [{"filter": "datum.p == 'D'"}], "mark": {"type": "point", "shape": "circle", "filled": false, "color": "#0000ff", "strokeWidth": 1.2, "opacity": 1}, "encoding": {"x": {"field": "v", "type": "quantitative", "scale": {"domain": [9.925, 12.569], "reverse": true, "nice": false, "zero": false}, "axis": {"values": [10,10.5,11,11.5,12,12.5], "format": ".1f", "title": "Mother´s Education"}}, "size": {"field": "n", "type": "quantitative", "scale": {"domain": [0, 100], "range": [0, 400]}, "legend": null}}}
 ]},
{"width": 270, "height": 422,
 "encoding": {"y": {"field": "w", "type": "quantitative", "scale": {"domain": [1292, 1707], "nice": false, "zero": false}, "axis": {"orient": "right", "values": [1300,1400,1500,1600,1700], "format": "d", "title": "Weight in grams"}}},
 "layer": [
  {"data": {"name": "band"}, "transform": [{"filter": "datum.p == 'E'"}], "mark": {"type": "area", "orient": "horizontal", "interpolate": "catmull-rom", "fill": "#ebebeb", "stroke": "#bebebe", "strokeWidth": 1}, "encoding": {"x": {"field": "lo", "type": "quantitative", "scale": {"domain": [10.671, 14.089], "reverse": true, "nice": false, "zero": false}, "axis": {"values": [11,12,13,14], "format": ".1f", "title": "Father´s Education"}}, "x2": {"field": "hi"}, "detail": {"field": "s"}}},
  {"data": {"name": "band"}, "transform": [{"filter": "datum.p == 'E'"}], "mark": {"type": "line", "color": "#ff8c00", "strokeWidth": 1, "interpolate": "catmull-rom"}, "encoding": {"x": {"field": "f", "type": "quantitative", "scale": {"domain": [10.671, 14.089], "reverse": true, "nice": false, "zero": false}, "axis": {"values": [11,12,13,14], "format": ".1f", "title": "Father´s Education"}}, "detail": {"field": "s"}, "order": {"field": "w", "type": "quantitative"}}},
  {"data": {"name": "cut"}, "mark": {"type": "rule", "color": "#ff0000", "strokeDash": [4, 3], "strokeWidth": 1}, "encoding": {}},
  {"data": {"name": "pts"}, "transform": [{"filter": "datum.p == 'E'"}], "mark": {"type": "point", "shape": "circle", "filled": false, "color": "#0000ff", "strokeWidth": 1.2, "opacity": 1}, "encoding": {"x": {"field": "v", "type": "quantitative", "scale": {"domain": [10.671, 14.089], "reverse": true, "nice": false, "zero": false}, "axis": {"values": [11,12,13,14], "format": ".1f", "title": "Father´s Education"}}, "size": {"field": "n", "type": "quantitative", "scale": {"domain": [0, 100], "range": [0, 400]}, "legend": null}}}
 ]},
{"width": 270, "height": 422,
 "encoding": {"y": {"field": "w", "type": "quantitative", "scale": {"domain": [1292, 1707], "nice": false, "zero": false}, "axis": {"orient": "right", "values": [1300,1400,1500,1600,1700], "format": "d", "title": "Weight in grams", "titleX": 21}}},
 "layer": [
  {"data": {"name": "band"}, "transform": [{"filter": "datum.p == 'F'"}], "mark": {"type": "area", "orient": "horizontal", "interpolate": "catmull-rom", "fill": "#ebebeb", "stroke": "#bebebe", "strokeWidth": 1}, "encoding": {"x": {"field": "lo", "type": "quantitative", "scale": {"domain": [-0.24, 8.197], "reverse": true, "nice": false, "zero": false}, "axis": {"values": [0,2,4,6,8], "format": ".1f", "title": "Parent´s Difference in Age"}}, "x2": {"field": "hi"}, "detail": {"field": "s"}}},
  {"data": {"name": "band"}, "transform": [{"filter": "datum.p == 'F'"}], "mark": {"type": "line", "color": "#ff8c00", "strokeWidth": 1, "interpolate": "catmull-rom"}, "encoding": {"x": {"field": "f", "type": "quantitative", "scale": {"domain": [-0.24, 8.197], "reverse": true, "nice": false, "zero": false}, "axis": {"values": [0,2,4,6,8], "format": ".1f", "title": "Parent´s Difference in Age"}}, "detail": {"field": "s"}, "order": {"field": "w", "type": "quantitative"}}},
  {"data": {"name": "cut"}, "mark": {"type": "rule", "color": "#ff0000", "strokeDash": [4, 3], "strokeWidth": 1}, "encoding": {}},
  {"data": {"name": "pts"}, "transform": [{"filter": "datum.p == 'F'"}], "mark": {"type": "point", "shape": "circle", "filled": false, "color": "#0000ff", "strokeWidth": 1.2, "opacity": 1}, "encoding": {"x": {"field": "v", "type": "quantitative", "scale": {"domain": [-0.24, 8.197], "reverse": true, "nice": false, "zero": false}, "axis": {"values": [0,2,4,6,8], "format": ".1f", "title": "Parent´s Difference in Age"}}, "size": {"field": "n", "type": "quantitative", "scale": {"domain": [0, 100], "range": [0, 400]}, "legend": null}}}
 ]},
{"width": 270, "height": 422,
 "encoding": {"y": {"field": "w", "type": "quantitative", "scale": {"domain": [1292, 1707], "nice": false, "zero": false}, "axis": {"orient": "right", "values": [1300,1400,1500,1600,1700], "format": "d", "title": "Weight in grams"}}},
 "layer": [
  {"data": {"name": "band"}, "transform": [{"filter": "datum.p == 'G'"}], "mark": {"type": "area", "orient": "horizontal", "interpolate": "catmull-rom", "fill": "#ebebeb", "stroke": "#bebebe", "strokeWidth": 1}, "encoding": {"x": {"field": "lo", "type": "quantitative", "scale": {"domain": [18.94, 21.055], "reverse": true, "nice": false, "zero": false}, "axis": {"values": [19,19.5,20,20.5,21], "format": ".1f", "title": "Mother´s Age"}}, "x2": {"field": "hi"}, "detail": {"field": "s"}}},
  {"data": {"name": "band"}, "transform": [{"filter": "datum.p == 'G'"}], "mark": {"type": "line", "color": "#ff8c00", "strokeWidth": 1, "interpolate": "catmull-rom"}, "encoding": {"x": {"field": "f", "type": "quantitative", "scale": {"domain": [18.94, 21.055], "reverse": true, "nice": false, "zero": false}, "axis": {"values": [19,19.5,20,20.5,21], "format": ".1f", "title": "Mother´s Age"}}, "detail": {"field": "s"}, "order": {"field": "w", "type": "quantitative"}}},
  {"data": {"name": "cut"}, "mark": {"type": "rule", "color": "#ff0000", "strokeDash": [4, 3], "strokeWidth": 1}, "encoding": {}},
  {"data": {"name": "pts"}, "transform": [{"filter": "datum.p == 'G'"}], "mark": {"type": "point", "shape": "circle", "filled": false, "color": "#0000ff", "strokeWidth": 1.2, "opacity": 1}, "encoding": {"x": {"field": "v", "type": "quantitative", "scale": {"domain": [18.94, 21.055], "reverse": true, "nice": false, "zero": false}, "axis": {"values": [19,19.5,20,20.5,21], "format": ".1f", "title": "Mother´s Age"}}, "size": {"field": "n", "type": "quantitative", "scale": {"domain": [0, 100], "range": [0, 400]}, "legend": null}}}
 ]},
{"width": 270, "height": 422,
 "encoding": {"y": {"field": "w", "type": "quantitative", "scale": {"domain": [1292, 1707], "nice": false, "zero": false}, "axis": {"orient": "right", "values": [1300,1400,1500,1600,1700], "format": "d", "title": "Weight in grams"}}},
 "layer": [
  {"data": {"name": "band"}, "transform": [{"filter": "datum.p == 'H'"}], "mark": {"type": "area", "orient": "horizontal", "interpolate": "catmull-rom", "fill": "#ebebeb", "stroke": "#bebebe", "strokeWidth": 1}, "encoding": {"x": {"field": "lo", "type": "quantitative", "scale": {"domain": [19.76, 28.219], "reverse": true, "nice": false, "zero": false}, "axis": {"values": [20,22,24,26,28], "format": ".1f", "title": "Father´s Age"}}, "x2": {"field": "hi"}, "detail": {"field": "s"}}},
  {"data": {"name": "band"}, "transform": [{"filter": "datum.p == 'H'"}], "mark": {"type": "line", "color": "#ff8c00", "strokeWidth": 1, "interpolate": "catmull-rom"}, "encoding": {"x": {"field": "f", "type": "quantitative", "scale": {"domain": [19.76, 28.219], "reverse": true, "nice": false, "zero": false}, "axis": {"values": [20,22,24,26,28], "format": ".1f", "title": "Father´s Age"}}, "detail": {"field": "s"}, "order": {"field": "w", "type": "quantitative"}}},
  {"data": {"name": "cut"}, "mark": {"type": "rule", "color": "#ff0000", "strokeDash": [4, 3], "strokeWidth": 1}, "encoding": {}},
  {"data": {"name": "pts"}, "transform": [{"filter": "datum.p == 'H'"}], "mark": {"type": "point", "shape": "circle", "filled": false, "color": "#0000ff", "strokeWidth": 1.2, "opacity": 1}, "encoding": {"x": {"field": "v", "type": "quantitative", "scale": {"domain": [19.76, 28.219], "reverse": true, "nice": false, "zero": false}, "axis": {"values": [20,22,24,26,28], "format": ".1f", "title": "Father´s Age"}}, "size": {"field": "n", "type": "quantitative", "scale": {"domain": [0, 100], "range": [0, 400]}, "legend": null}}}
 ]},
{"width": 270, "height": 422,
 "encoding": {"y": {"field": "w", "type": "quantitative", "scale": {"domain": [1190, 1814], "nice": false, "zero": false}, "axis": {"orient": "right", "values": [1200,1400,1600,1800], "format": "d", "title": "Weight in grams", "titleX": 21}}},
 "layer": [
  {"data": {"name": "band"}, "transform": [{"filter": "datum.p == 'I'"}], "mark": {"type": "area", "orient": "horizontal", "interpolate": "catmull-rom", "fill": "#ebebeb", "stroke": "#bebebe", "strokeWidth": 1}, "encoding": {"x": {"field": "lo", "type": "quantitative", "scale": {"domain": [-0.009, 0.3074], "reverse": true, "nice": false, "zero": false}, "axis": {"values": [0,0.1,0.2,0.3], "format": ".2f", "title": "Married"}}, "x2": {"field": "hi"}, "detail": {"field": "s"}}},
  {"data": {"name": "band"}, "transform": [{"filter": "datum.p == 'I'"}], "mark": {"type": "line", "color": "#ff8c00", "strokeWidth": 1, "interpolate": "catmull-rom"}, "encoding": {"x": {"field": "f", "type": "quantitative", "scale": {"domain": [-0.009, 0.3074], "reverse": true, "nice": false, "zero": false}, "axis": {"values": [0,0.1,0.2,0.3], "format": ".2f", "title": "Married"}}, "detail": {"field": "s"}, "order": {"field": "w", "type": "quantitative"}}},
  {"data": {"name": "cut"}, "mark": {"type": "rule", "color": "#ff0000", "strokeDash": [4, 3], "strokeWidth": 1}, "encoding": {}},
  {"data": {"name": "pts"}, "transform": [{"filter": "datum.p == 'I'"}], "mark": {"type": "point", "shape": "circle", "filled": false, "color": "#0000ff", "strokeWidth": 1.2, "opacity": 1}, "encoding": {"x": {"field": "v", "type": "quantitative", "scale": {"domain": [-0.009, 0.3074], "reverse": true, "nice": false, "zero": false}, "axis": {"values": [0,0.1,0.2,0.3], "format": ".2f", "title": "Married"}}, "size": {"field": "n", "type": "quantitative", "scale": {"domain": [0, 100], "range": [0, 400]}, "legend": null}}}
 ]}
],
"config": {
 "font": "Liberation Sans",
 "view": {"stroke": null},
 "axis": {"domainColor": "#9a9a9a", "tickColor": "#9a9a9a", "domainWidth": 1, "tickWidth": 1, "labelColor": "#111111", "titleColor": "#000000", "titleFontWeight": "normal", "labelFontSize": 8.6, "titleFontSize": 11.2, "labelFont": "Liberation Sans", "titleFont": "Liberation Sans", "grid": true, "gridColor": "#c8c8c8", "gridDash": [1, 2], "gridWidth": 1, "labelOverlap": false, "labelFlush": false},
 "axisX": {"labelAngle": 270, "labelAlign": "right", "labelBaseline": "middle", "tickSize": 5, "labelPadding": 3, "titleAngle": 180, "titleBaseline": "middle", "titleY": 43},
 "axisY": {"labelAngle": 270, "labelAlign": "center", "labelBaseline": "top", "tickSize": 4.3, "labelPadding": 2.5, "titleAngle": 270, "titleBaseline": "middle", "titleX": 25}
}
}
